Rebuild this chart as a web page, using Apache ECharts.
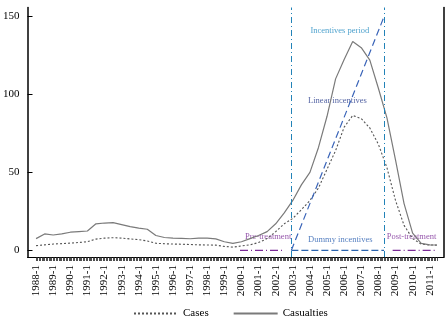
<!DOCTYPE html>
<html>
<head>
<meta charset="utf-8">
<script src="https://cdn.jsdelivr.net/npm/echarts@6/dist/echarts.min.js"></script>
<style>
  html, body { margin: 0; padding: 0; background: #fff; }
  #chart { width: 446px; height: 319px; }
</style>
</head>
<body>
<div id="chart"></div>
<script>
// year tick labels (one per January)
const yearLabels = ['1988-1','1989-1','1990-1','1991-1','1992-1','1993-1','1994-1','1995-1',
  '1996-1','1997-1','1998-1','1999-1','2000-1','2001-1','2002-1','2003-1','2004-1','2005-1',
  '2006-1','2007-1','2008-1','2009-1','2010-1','2011-1'];

// sample dates (half-yearly)
const periods = ['1988-1','1988-7','1989-1','1989-7','1990-1','1990-7','1991-1','1991-7',
  '1992-1','1992-7','1993-1','1993-7','1994-1','1994-7','1995-1','1995-7','1996-1','1996-7',
  '1997-1','1997-7','1998-1','1998-7','1999-1','1999-7','2000-1','2000-7','2001-1','2001-7',
  '2002-1','2002-7','2003-1','2003-7','2004-1','2004-7','2005-1','2005-7','2006-1','2006-7',
  '2007-1','2007-7','2008-1','2008-7','2009-1','2009-7','2010-1','2010-7','2011-1','2011-6'];

const casualties = [7.5, 10.5, 9.8, 10.5, 11.6, 12, 12.4, 17, 17.5, 17.8, 16.5, 15.2, 14.2, 13.5,
  9.5, 8.2, 7.8, 7.6, 7.4, 7.8, 7.8, 7.3, 5.5, 4.5, 5.5, 7.5, 9.5, 12, 17, 24, 32, 42, 50, 66,
  86, 110, 122.5, 134, 130, 122, 104, 85, 58, 30, 11, 4.5, 3.5, 3.4];

const cases = [3.0, 3.5, 4.0, 4.3, 4.6, 5.0, 5.5, 7.2, 7.8, 8.1, 7.8, 7.3, 6.8, 6.0, 4.5, 4.2,
  4.0, 3.9, 3.7, 3.5, 3.4, 3.3, 2.5, 2.0, 2.8, 3.5, 5.0, 7.5, 12, 17, 20.5, 26, 32, 40, 52, 64,
  79, 86.5, 84.5, 78.5, 68, 53, 32, 16, 7.5, 4.0, 3.4, 3.3];

// incentives period and reference segments
const incentiveStart = '2002-12';
const incentiveEnd = '2008-5';
const linearIncentives = [0, 150];
const preTreatment = ['1999-12', '2002-6'];
const postTreatment = ['2008-11', '2011-6'];
const lastMonth = '2011-6';

const yTicks = [0, 50, 100, 150];

// 'YYYY-M' -> months since 1988-1
const toMonth = (s) => {
  const [y, m] = s.split('-').map(Number);
  return (y - 1988) * 12 + (m - 1);
};

const pairs = (xs, ys) => xs.map((p, i) => [toMonth(p), ys[i]]);

const monthTicks = [];
for (let i = 0; i <= toMonth(lastMonth); i++) monthTicks.push(i);
const yearTicks = yearLabels.map(toMonth);

const serif = 'Liberation Serif';
const chart = echarts.init(document.getElementById('chart'));

const option = {
  animation: false,
  grid: { left: 27, right: 2, top: 7.5, bottom: 62, containLabel: false },
  legend: {
    data: ['Cases', 'Casualties'],
    left: 128,
    top: 303,
    itemWidth: 44,
    itemHeight: 10,
    itemGap: 24,
    itemStyle: { opacity: 0 },
    textStyle: { fontFamily: serif, fontSize: 11, color: '#000' },
  },
  xAxis: {
    type: 'value',
    min: -6,
    max: 286,
    axisLine: { onZero: false, lineStyle: { color: '#000', width: 1 } },
    axisTick: { customValues: monthTicks, length: 4, lineStyle: { color: '#222', width: 0.8 } },
    axisLabel: {
      customValues: yearTicks,
      formatter: (v) => yearLabels[Math.round(v / 12)] || '',
      rotate: 90,
      margin: 8,
      fontFamily: serif,
      fontSize: 11,
      color: '#000',
    },
    splitLine: { show: false },
  },
  yAxis: [
    {
      type: 'value',
      min: -4.3,
      max: 155.8,
      axisLine: { show: true, onZero: false, lineStyle: { color: '#000', width: 1.5 } },
      axisTick: { show: true, inside: true, length: 5, customValues: yTicks, lineStyle: { color: '#000' } },
      axisLabel: { customValues: yTicks, margin: 8, fontFamily: serif, fontSize: 11, color: '#000' },
      splitLine: { show: false },
    },
    {
      type: 'value',
      position: 'right',
      min: -4.3,
      max: 155.8,
      axisLine: { show: true, onZero: false, lineStyle: { color: '#000', width: 1.5 } },
      axisTick: { show: false },
      axisLabel: { show: false },
      splitLine: { show: false },
    },
  ],
  series: [
    {
      name: 'Cases',
      type: 'line',
      data: pairs(periods, cases),
      symbol: 'none',
      lineStyle: { color: '#555', width: 1.1, type: [2, 2] },
      itemStyle: { color: '#555' },
    },
    {
      name: 'Casualties',
      type: 'line',
      data: pairs(periods, casualties),
      symbol: 'none',
      lineStyle: { color: '#7a7a7a', width: 1.2 },
      itemStyle: { color: '#7a7a7a' },
    },
    {
      name: 'Linear incentives',
      type: 'line',
      data: pairs([incentiveStart, incentiveEnd], linearIncentives),
      symbol: 'none',
      lineStyle: { color: '#3a64b8', width: 1.2, type: [7, 4] },
      markLine: {
        silent: true,
        symbol: 'none',
        label: { show: false },
        lineStyle: { color: '#2283b8', width: 1, type: [6, 3, 1, 3] },
        data: [{ xAxis: toMonth(incentiveStart) }, { xAxis: toMonth(incentiveEnd) }],
      },
    },
    {
      name: 'Dummy incentives',
      type: 'line',
      data: pairs([incentiveStart, incentiveEnd], [0, 0]),
      symbol: 'none',
      lineStyle: { color: '#2a63ad', width: 1.2, type: [7, 3] },
    },
    {
      name: 'Pre-treatment',
      type: 'line',
      data: pairs(preTreatment, [0, 0]),
      symbol: 'none',
      lineStyle: { color: '#7a2a96', width: 1.2, type: [8, 3, 1, 3] },
    },
    {
      name: 'Post-treatment',
      type: 'line',
      data: pairs(postTreatment, [0, 0]),
      symbol: 'none',
      lineStyle: { color: '#7a2a96', width: 1.2, type: [8, 3, 1, 3] },
    },
    {
      name: 'notes',
      type: 'scatter',
      symbolSize: 1,
      itemStyle: { color: 'rgba(0,0,0,0)' },
      silent: true,
      label: {
        show: true,
        position: 'inside',
        fontFamily: serif,
        fontSize: 8.5,
        formatter: (p) => p.name,
      },
      data: [
        { name: 'Incentives period', value: [213, 140.6], label: { color: '#1f8ac0' } },
        { name: 'Linear incentives', value: [211.3, 95.9], label: { color: '#283c8c' } },
        { name: 'Pre-treatment', value: [162.7, 8.7], label: { color: '#7a2a96' } },
        { name: 'Dummy incentives', value: [213.3, 7], label: { color: '#2a5fb0' } },
        { name: 'Post-treatment', value: [263.2, 8.7], label: { color: '#7a2a96' } },
      ],
    },
  ],
};

chart.setOption(option);
window.addEventListener('resize', () => chart.resize());
</script>
</body>
</html>
